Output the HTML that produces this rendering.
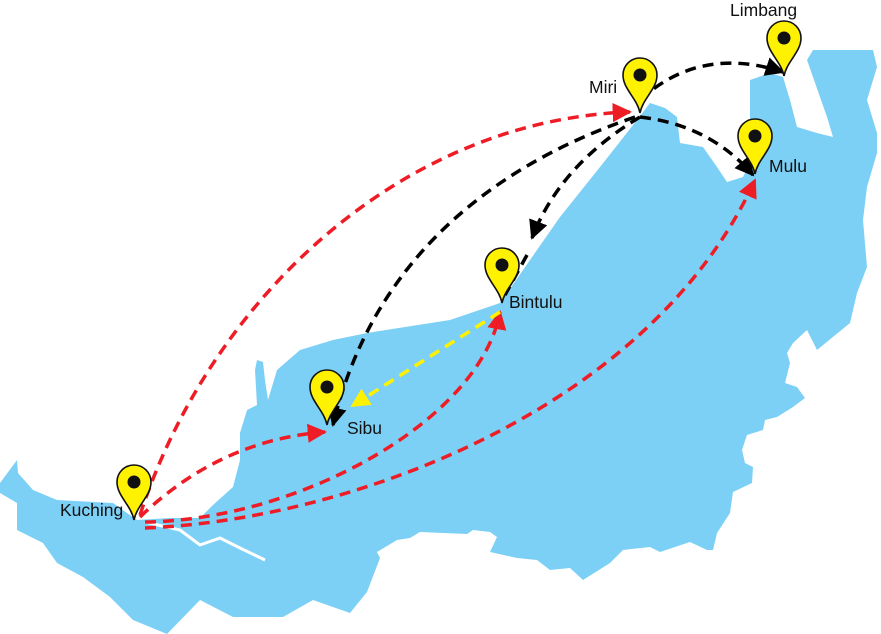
<!DOCTYPE html>
<html><head><meta charset="utf-8"><style>
html,body{margin:0;padding:0;background:#fff;}
svg{display:block}
text{font-family:"Liberation Sans",Arial,sans-serif;font-size:17.5px;fill:#111}
</style></head><body>
<svg width="881" height="634" viewBox="0 0 881 634" xmlns="http://www.w3.org/2000/svg">
<defs>
<marker id="mr" viewBox="0 0 10 10" refX="9" refY="5" markerWidth="5.5" markerHeight="5.5" orient="auto" markerUnits="strokeWidth"><path d="M0,0 L10,5 L0,10 z" fill="#ee1c25"/></marker>
<marker id="mk" viewBox="0 0 10 10" refX="9" refY="5" markerWidth="5.5" markerHeight="5.5" orient="auto" markerUnits="strokeWidth"><path d="M0,0 L10,5 L0,10 z" fill="#000"/></marker>
<marker id="my" viewBox="0 0 10 10" refX="9" refY="5" markerWidth="5.5" markerHeight="5.5" orient="auto" markerUnits="strokeWidth"><path d="M0,0 L10,5 L0,10 z" fill="#fff200"/></marker>
<g id="pin"><path d="M0,0 C-3,-15 -17,-24 -17,-38 A17,17 0 1 1 17,-38 C17,-24 3,-15 0,0 z" fill="#fff200" stroke="#111" stroke-width="1.6"/><circle cx="0" cy="-38" r="6.5" fill="#111"/></g>
</defs>
<path fill="#7dd0f5" d="M0,483 L17,460 L18,473 L33,490 L57,500 L113,503 L127,513 L137,520 L170,518 L200,518 L213,505 L233,487 L240,460 L240,433 L247,410 L257,405 L255,370 L257,360 L263,362 L265,380 L268,400 L277,370 L300,350 L333,340 L367,333 L450,320 L500,303 L530,260 L560,217 L600,167 L637,120 L650,103 L665,108 L677,117 L680,143 L703,147 L717,167 L727,182 L743,177 L750,163 L750,80 L770,73 L783,77 L790,100 L797,127 L817,133 L833,137 L827,117 L807,60 L813,50 L873,50 L877,67 L867,100 L877,133 L877,153 L867,187 L863,220 L867,267 L857,293 L850,323 L817,350 L807,330 L793,343 L787,353 L790,363 L785,383 L797,387 L805,398 L793,407 L777,417 L765,420 L763,430 L747,435 L742,450 L745,463 L753,467 L752,483 L733,492 L730,513 L717,533 L713,550 L707,550 L690,542 L660,552 L650,547 L623,550 L610,563 L583,580 L570,568 L550,570 L537,560 L517,558 L490,552 L497,537 L490,532 L473,530 L467,534 L420,532 L410,538 L397,540 L377,552 L380,558 L367,592 L350,613 L313,600 L283,617 L233,617 L200,600 L167,634 L133,620 L110,597 L83,577 L57,563 L43,543 L17,530 L17,503 L0,493 z"/>
<path d="M145,522 L180,530 L200,545 L220,538 L240,548 L265,560" stroke="#fff" stroke-width="3" fill="none"/>
<g fill="none" stroke-width="3.5" stroke-dasharray="11,7">
<path d="M140,515 C210,300 400,120 630,112" stroke="#ee1c25" marker-end="url(#mr)"/>
<path d="M140,517 Q220,440 325,432" stroke="#ee1c25" marker-end="url(#mr)"/>
<path d="M145,522 C300,520 480,420 500,312" stroke="#ee1c25" marker-end="url(#mr)"/>
<path d="M145,528 C350,520 650,410 755,180" stroke="#ee1c25" marker-end="url(#mr)"/>
<path d="M640,100 Q700,45 783,72" stroke="#000" marker-end="url(#mk)"/>
<path d="M640,117 Q710,125 753,175" stroke="#000" marker-end="url(#mk)"/>
<path d="M640,117 Q560,165 532,238" stroke="#000" marker-end="url(#mk)"/>
<path d="M527,255 L505,295" stroke="#000"/>
<path d="M635,117 C480,170 370,270 333,425" stroke="#000" marker-end="url(#mk)"/>
<path d="M500,312 L352,406" stroke="#fff200" marker-end="url(#my)"/>
</g>
<use href="#pin" x="134" y="520"/>
<use href="#pin" x="327" y="425"/>
<use href="#pin" x="502" y="303"/>
<use href="#pin" x="640" y="113"/>
<use href="#pin" x="784" y="76"/>
<use href="#pin" x="755" y="174"/>
<text x="60" y="516">Kuching</text>
<text x="347" y="434">Sibu</text>
<text x="509" y="308">Bintulu</text>
<text x="589" y="93">Miri</text>
<text x="730" y="16">Limbang</text>
<text x="769" y="172">Mulu</text>
</svg>
</body></html>
